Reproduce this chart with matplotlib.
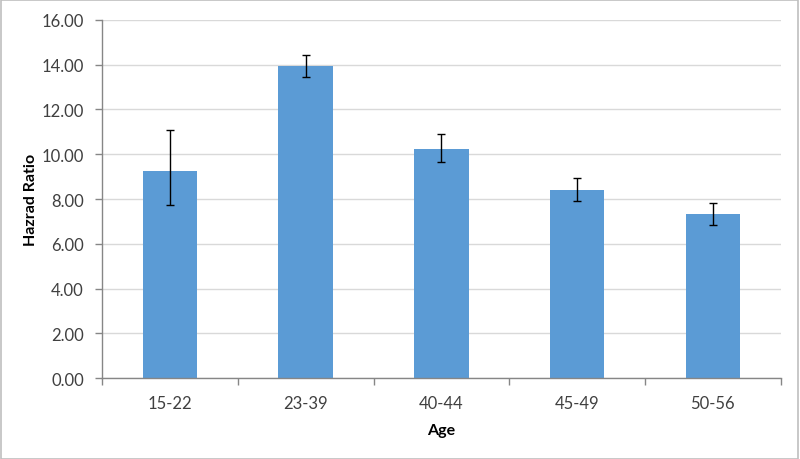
import matplotlib
matplotlib.use("Agg")
import matplotlib.pyplot as plt
from matplotlib.patches import Rectangle
import numpy as np

categories = ["15-22", "23-39", "40-44", "45-49", "50-56"]
hazard_ratio = [9.25, 13.95, 10.25, 8.42, 7.33]
ci_lower = [7.75, 13.45, 9.65, 7.92, 6.83]
ci_upper = [11.07, 14.43, 10.88, 8.95, 7.83]

plt.rcParams['font.family'] = ['Lato', 'DejaVu Sans']

fig = plt.figure(figsize=(8, 4.6), dpi=100)
ax = fig.add_axes([0.1275, 0.1754, 0.976 - 0.1275, 0.955 - 0.1754])

x = np.arange(len(categories))
vals = np.array(hazard_ratio)
yerr = np.array([vals - np.array(ci_lower), np.array(ci_upper) - vals])

ax.bar(x, vals, width=0.4, color="#5B9BD5", zorder=2)
ax.errorbar(x, vals, yerr=yerr, fmt="none", ecolor="black", elinewidth=1,
            capsize=3.2, capthick=1, zorder=3)

ax.set_xlim(-0.5, len(categories) - 0.5)
ax.set_ylim(0, 16)
ax.set_yticks(np.arange(0, 16.01, 2))
ax.set_yticklabels([f"{v:.2f}" for v in np.arange(0, 16.01, 2)])
ax.yaxis.grid(True, color="#D9D9D9", linewidth=1, zorder=0)
ax.set_axisbelow(True)

ax.set_xticks(x)
ax.set_xticklabels(categories)
ax.set_xticks(np.arange(-0.5, len(categories), 1), minor=True)
ax.tick_params(axis="x", which="major", length=0, pad=12, labelsize=12, colors="#404040")
ax.tick_params(axis="x", which="minor", length=5, color="#868686", width=1)
ax.tick_params(axis="y", length=5, color="#868686", width=1, labelsize=12, colors="#404040", pad=8)
for lab in ax.get_yticklabels() + ax.get_xticklabels():
    lab.set_color("#404040")

for s in ["top", "right"]:
    ax.spines[s].set_visible(False)
for s in ["left", "bottom"]:
    ax.spines[s].set_color("#868686")
    ax.spines[s].set_linewidth(1)

ax.set_ylabel("Hazrad Ratio", fontsize=11.5, fontweight="bold")
ax.yaxis.set_label_coords(-0.094, 0.5)
ax.set_xlabel("Age", fontsize=11.5, fontweight="bold", labelpad=9)

fig.patches.append(Rectangle((0.001, 0.001), 0.997, 0.997, transform=fig.transFigure,
                             fill=False, edgecolor="#BFBFBF", linewidth=1.2))

fig.savefig("out.png", dpi=100)
